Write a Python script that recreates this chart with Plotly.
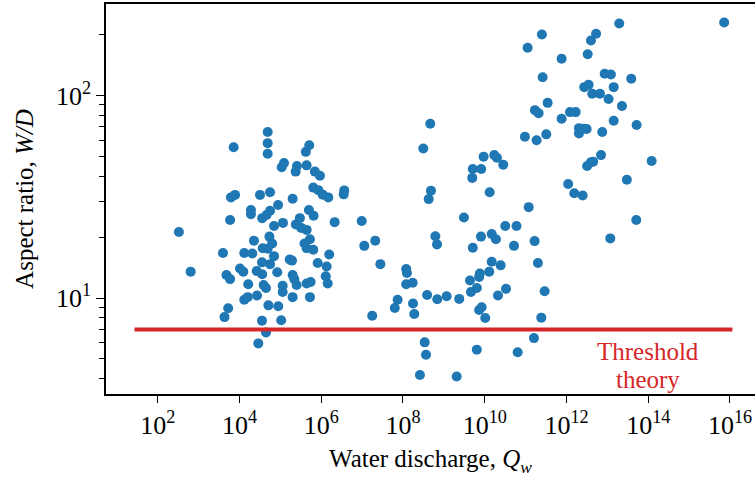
import plotly.graph_objects as go

# ---- data (water discharge Q_w, aspect ratio W/D) ----
discharge = [
    3.3e2, 6.4e2, 3.95e3, 5.9e3, 6.2e3, 7.8e3, 7.2e3, 4.8e3, 5.9e3, 5.3e3,
    4.3e3, 1.03e4, 1.24e4, 1.31e4, 1.64e4, 1.31e4, 1.59e4, 1.91e4, 1.91e4, 2.26e4,
    2.06e4, 2.69e4, 2.89e4, 3.56e4, 4.46e4, 4.9e4, 4.9e4, 4.9e4, 3.18e4, 5.6e4,
    3.6e4, 4.6e4, 5.6e4, 8.8e4, 7.0e4, 5.4e4, 6.3e4, 3.7e4, 4.9e4, 7.0e4,
    3.56e4, 5.6e4, 2.64e4, 3.6e4, 8.4e4, 3.9e4, 4.46e4, 5.1e4, 8.9e4, 1.14e5,
    1.14e5, 1.05e5, 1.16e5, 1.08e5, 1.23e5, 2.0e5, 1.69e5, 1.93e5, 2.0e5, 2.19e5,
    2.5e5, 2.0e5, 2.37e5, 2.55e5, 4.4e5, 2.4e5, 3.0e5, 3.25e5, 4.4e5, 5.3e5,
    3.9e5, 4.4e5, 6.4e5, 4.2e5, 5.1e5, 5.0e5, 6.5e5, 4.4e5, 5.5e5, 5.3e5,
    7.0e5, 9.3e5, 6.4e5, 8.5e5, 1.09e6, 1.49e6, 8.2e5, 1.36e6, 1.29e6, 1.44e6,
    1.57e6, 2.13e6, 3.66e6, 3.55e6,
    9.8e6, 1.13e7, 2.1e7, 2.8e7, 1.77e7, 1.2e8, 1.25e8, 1.2e8, 1.73e8, 7.4e7,
    6.3e7, 1.76e8, 1.89e8, 3.9e8, 6.9e8, 1.17e9, 2.38e9, 4.66e8, 3.14e8, 4.84e8,
    4.26e8, 6.2e8, 6.8e8, 3.4e8, 3.66e8, 2.6e8, 2.06e9, 3.1e9, 5.1e9, 8.2e9,
    9.4e9, 4.95e9, 1.71e10, 1.99e10, 2.84e10, 1.32e10, 5.1e9, 8.1e9, 1.48e10, 1.88e10,
    3.18e10, 6.0e10, 5.2e10, 1.19e11, 1.66e11, 2.0e11, 2.92e11, 2.42e11, 1.6e11, 6.4e10,
    6.4e9, 1.48e10, 1.29e10, 2.45e10, 7.6e9, 7.3e9, 4.36e9, 4.6e9, 6.4e9, 7.3e9,
    8.4e9, 1.03e10, 2.11e10, 3.31e10,
    9.6e10, 1.86e11, 3.2e11, 1.69e11, 2.08e11, 3.46e11, 7.6e11, 1.22e12, 1.68e12, 1.1e12,
    7.2e15, 1.95e13, 5.3e12, 3.97e12, 2.51e11, 1.12e11, 7.6e11, 3.3e12, 2.61e11, 8.6e12,
    1.22e13, 3.84e13, 2.72e12, 3.48e12, 1.43e13, 4.27e12, 6.6e12, 1.07e13, 2.28e13, 1.43e13,
    2.02e12, 2.57e12, 3.11e12, 2.02e12, 7.5e12, 5.2e13, 7.0e12, 4.5e12, 3.97e12, 3.2e12,
    1.21e14, 3.0e13, 1.55e12, 2.49e12, 5.1e13, 1.18e13,
]
aspect_ratio = [
    21.2, 13.5, 16.7, 24.3, 31.4, 32.3, 55.5, 13.0, 12.4, 8.9,
    8.05, 14.0, 13.5, 16.7, 11.7, 9.8, 10.1, 27.2, 25.9, 19.2,
    16.6, 10.3, 5.97, 7.73, 6.75, 66.1, 58.2, 51.6, 32.3, 33.3,
    24.8, 25.7, 27.0, 28.8, 22.7, 20.1, 18.6, 17.6, 17.5, 16.1,
    15.0, 14.7, 13.6, 13.1, 13.4, 11.6, 11.2, 9.2, 9.1, 11.5,
    10.7, 7.76, 23.5, 44.2, 46.4, 30.9, 15.5, 15.3, 13.0, 12.4,
    11.6, 10.1, 42.1, 44.9, 45.2, 23.1, 24.8, 22.2, 21.7, 19.5,
    18.6, 17.6, 17.3, 52.7, 56.8, 27.2, 25.5, 11.8, 12.0, 10.1,
    42.1, 40.2, 35.1, 34.1, 32.4, 31.4, 14.9, 14.3, 12.8, 11.8,
    16.4, 23.7, 34.0, 32.5,
    24.0, 18.1, 19.2, 14.7, 8.18, 13.9, 13.3, 11.7, 11.9, 9.8,
    8.93, 9.4, 8.34, 10.35, 9.86, 10.2, 9.9, 72.6, 54.8, 33.9,
    30.8, 20.2, 18.4, 6.04, 5.25, 4.17, 4.10, 25.0, 43.4, 43.4,
    49.9, 39.2, 50.8, 49.3, 45.5, 33.3, 17.7, 20.1, 20.7, 19.5,
    22.7, 22.7, 18.1, 28.1, 19.1, 14.9, 10.8, 8.0, 6.34, 5.40,
    5.56, 15.1, 13.5, 14.5, 13.2, 12.7, 12.2, 10.7, 11.2, 8.73,
    9.0, 7.96, 10.3, 11.1,
    62.6, 60.1, 64.3, 84.7, 81.7, 92.0, 76.8, 82.8, 82.8, 36.6,
    229.6, 227, 202, 187, 200, 172, 152, 160, 123, 128,
    127, 121, 110, 113, 110, 102, 102, 96.2, 88.7, 75.1,
    69.0, 68.5, 68.4, 65.0, 66.1, 71.5, 50.8, 47.1, 46.8, 44.9,
    47.5, 38.4, 32.9, 32.1, 24.3, 19.7,
]

threshold_Q = [2.7e1, 1.15e16]
threshold_ratio = [7.0, 7.0]

x_tickvals = [1e2, 1e4, 1e6, 1e8, 1e10, 1e12, 1e14, 1e16]
x_ticktext = ["10<sup>2</sup>", "10<sup>4</sup>", "10<sup>6</sup>", "10<sup>8</sup>",
              "10<sup>10</sup>", "10<sup>12</sup>", "10<sup>14</sup>", "10<sup>16</sup>"]
y_tickvals = [1e1, 1e2]
y_ticktext = ["10<sup>1</sup>", "10<sup>2</sup>"]
y_minor = [4, 5, 6, 7, 8, 9, 20, 30, 40, 50, 60, 70, 80, 90, 200]

FONT = "Liberation Serif"
BLUE = "#1f77b4"
RED = "#d62728"

fig = go.Figure()
fig.add_trace(go.Scatter(
    x=discharge, y=aspect_ratio, mode="markers",
    marker=dict(color=BLUE, size=10, line=dict(width=0)),
    showlegend=False, hoverinfo="skip",
))
fig.add_trace(go.Scatter(
    x=threshold_Q, y=threshold_ratio, mode="lines",
    line=dict(color=RED, width=4), showlegend=False, hoverinfo="skip",
))

fig.add_annotation(x=14, y=0.735, xref="x", yref="y", text="Threshold",
                   showarrow=False, font=dict(family=FONT, size=25, color=RED),
                   xanchor="center", yanchor="middle")
fig.add_annotation(x=14, y=0.598, xref="x", yref="y", text="theory",
                   showarrow=False, font=dict(family=FONT, size=25, color=RED),
                   xanchor="center", yanchor="middle")

fig.update_layout(
    width=755, height=477,
    margin=dict(l=106, r=0, t=4, b=83),
    paper_bgcolor="white", plot_bgcolor="white",
    font=dict(family=FONT, size=25, color="black"),
)
fig.update_xaxes(
    type="log", range=[0.735, 16.612],
    tickmode="array", tickvals=x_tickvals, ticktext=x_ticktext,
    ticks="outside", ticklen=7, tickwidth=1.3, tickcolor="black",
    showline=True, linecolor="black", linewidth=1.5, mirror=True,
    showgrid=False, zeroline=False,
    tickfont=dict(family=FONT, size=26),
    title=dict(text="Water discharge, <i>Q<sub>w</sub></i>", font=dict(family=FONT, size=25), standoff=11),
)
fig.update_yaxes(
    type="log", range=[0.526, 2.452],
    tickmode="array", tickvals=y_tickvals, ticktext=y_ticktext,
    ticks="outside", ticklen=8, tickwidth=1.3, tickcolor="black",
    minor=dict(tickvals=y_minor, ticks="outside", ticklen=5, tickwidth=1.1, tickcolor="black", showgrid=False),
    showline=True, linecolor="black", linewidth=1.5, mirror=False,
    showgrid=False, zeroline=False,
    tickfont=dict(family=FONT, size=26),
    title=dict(text="Aspect ratio, <i>W/D</i>", font=dict(family=FONT, size=25), standoff=15),
)

fig.write_html("out.html")
